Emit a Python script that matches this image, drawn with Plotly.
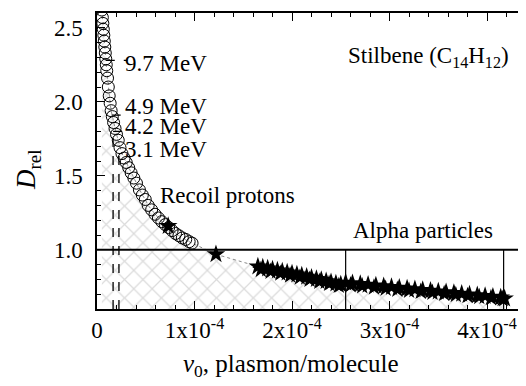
import plotly.graph_objects as go

# ---------------- data ----------------
# Recoil protons (open circles): nu0 in 1e-4 plasmon/molecule, D_rel
proton_nu = [0.050, 0.055, 0.060, 0.065, 0.070, 0.075, 0.080, 0.085, 0.090, 0.095,
             0.100, 0.108, 0.116, 0.125, 0.135, 0.145, 0.157, 0.170, 0.185, 0.200,
             0.218, 0.236, 0.256, 0.278, 0.300, 0.325, 0.350, 0.378, 0.405, 0.435,
             0.465, 0.495, 0.525, 0.560, 0.595, 0.630, 0.665, 0.700, 0.735, 0.770,
             0.805, 0.840, 0.875, 0.910, 0.945, 0.975]
proton_D = [2.62, 2.57, 2.53, 2.49, 2.45, 2.41, 2.37, 2.33, 2.29, 2.25,
            2.21, 2.16, 2.10, 2.04, 1.99, 1.94, 1.90, 1.86, 1.82, 1.78,
            1.74, 1.69, 1.65, 1.62, 1.59, 1.555, 1.52, 1.485, 1.45, 1.405,
            1.37, 1.34, 1.30, 1.27, 1.24, 1.215, 1.19, 1.17, 1.15, 1.13,
            1.11, 1.095, 1.08, 1.07, 1.055, 1.045]

# filled stars (upper row)
star_nu = [0.73, 1.22,
           1.65, 1.70, 1.75, 1.80, 1.85, 1.90, 1.95, 2.00, 2.05, 2.10, 2.15, 2.20,
           2.25, 2.30, 2.35, 2.40, 2.45, 2.50,
           2.55, 2.62, 2.70, 2.78, 2.86, 2.94, 3.02, 3.10, 3.18, 3.26, 3.34, 3.42,
           3.50, 3.58, 3.66, 3.74, 3.82, 3.90, 3.98, 4.06, 4.14, 4.18]
star_D = [1.16, 0.97,
          0.887, 0.880, 0.873, 0.866, 0.860, 0.853, 0.846, 0.840, 0.833, 0.826, 0.818, 0.810,
          0.802, 0.795, 0.788, 0.780, 0.772, 0.765,
          0.778, 0.773, 0.768, 0.763, 0.758, 0.753, 0.748, 0.743, 0.738, 0.733, 0.728, 0.723,
          0.718, 0.713, 0.708, 0.703, 0.698, 0.693, 0.688, 0.683, 0.678, 0.670]

# filled stars (lower row of the band)
star2_nu = [1.68, 1.78, 1.88, 1.98, 2.08, 2.18, 2.28, 2.38, 2.48,
            2.60, 2.72, 2.84, 2.96, 3.08, 3.20, 3.32, 3.44, 3.56, 3.68, 3.80, 3.92, 4.04, 4.16]
star2_D = [0.865, 0.853, 0.840, 0.827, 0.813, 0.799, 0.785, 0.771, 0.757,
           0.762, 0.754, 0.746, 0.738, 0.731, 0.724, 0.717, 0.710, 0.703, 0.696, 0.689, 0.682, 0.675, 0.668]

# proton energies marked on the curve
energy_labels = ["9.7 MeV", "4.9 MeV", "4.2 MeV", "3.1 MeV"]
energy_nu = [0.09, 0.15, 0.165, 0.225]
energy_D = [2.28, 1.91, 1.80, 1.70]
label_D = [2.26, 1.97, 1.83, 1.68]
energy_dropline = [False, False, True, True]
energy_leader = [True, True, True, False]

alpha_bounds = [2.55, 4.17]      # x 1e-4
reference_level = 1.0

x_ticks = [0, 1, 2, 3, 4]
x_ticktext = ["0", "1x10<sup>-4</sup>", "2x10<sup>-4</sup>", "3x10<sup>-4</sup>", "4x10<sup>-4</sup>"]
y_ticks = [1.0, 1.5, 2.0, 2.5]

SCALE = 1e-4
FONT = "Liberation Serif"

def sc(v):
    return [a * SCALE for a in v]

fig = go.Figure()

# hatched area under the whole curve
bound_nu = proton_nu + star_nu[1:]
bound_D = proton_D + star_D[1:]
fig.add_trace(go.Scatter(
    x=sc(bound_nu), y=bound_D, mode="lines",
    line=dict(color="#8a8a8a", width=1, dash="dot"),
    fill="tozeroy", fillcolor="rgba(0,0,0,0)",
    fillpattern=dict(shape="x", fgcolor="#b8b8b8", bgcolor="white", size=13, solidity=0.18),
    hoverinfo="skip", showlegend=False))

# reference line D = 1
fig.add_shape(type="line", xref="paper", x0=0, x1=1, yref="y", y0=reference_level, y1=reference_level,
              line=dict(color="black", width=2))
# alpha range bounds
for a in alpha_bounds:
    fig.add_shape(type="line", xref="x", x0=a * SCALE, x1=a * SCALE, yref="y", y0=0.6, y1=reference_level,
                  line=dict(color="black", width=1.2))

# energy drop lines / leaders / labels
label_x = 0.28
for lab, nx, dy, ly, drop, lead in zip(energy_labels, energy_nu, energy_D, label_D,
                                       energy_dropline, energy_leader):
    if drop:
        fig.add_shape(type="line", x0=nx * SCALE, x1=nx * SCALE, y0=0.6, y1=dy,
                      line=dict(color="black", width=1.3, dash="dash"))
    if lead:
        fig.add_shape(type="line", x0=nx * SCALE, x1=(label_x + 0.03) * SCALE, y0=dy, y1=dy,
                      line=dict(color="black", width=1.3, dash="dash"))
    fig.add_annotation(x=label_x * SCALE, y=ly, text=lab, showarrow=False, xanchor="left",
                       yanchor="middle", borderpad=0,
                       font=dict(family=FONT, size=23, color="black"))

# proton circles
fig.add_trace(go.Scatter(
    x=sc(proton_nu), y=proton_D, mode="markers",
    marker=dict(symbol="circle-open", size=12, color="black", line=dict(width=1)),
    showlegend=False))

# stars
fig.add_trace(go.Scatter(
    x=sc(star2_nu), y=star2_D, mode="markers",
    marker=dict(symbol="star", size=13, color="black"), showlegend=False))
fig.add_trace(go.Scatter(
    x=sc(star_nu), y=star_D, mode="markers",
    marker=dict(symbol="star", size=14, color="black"), showlegend=False))

# text annotations
txt = dict(family=FONT, size=23, color="black")
fig.add_annotation(x=1.34 * SCALE, y=1.37, text="Recoil protons", showarrow=False, font=txt)
fig.add_annotation(x=3.34 * SCALE, y=1.13, text="Alpha particles", showarrow=False, font=txt)
fig.add_annotation(x=4.25 * SCALE, y=2.30, text="Stilbene (C<sub>14</sub>H<sub>12</sub>)",
                   showarrow=False, xanchor="right", font=txt)
fig.add_annotation(xref="paper", yref="paper", x=0.45, y=-0.19, xanchor="center", yanchor="middle",
                   text="<i>ν</i><sub>0</sub>, plasmon/molecule", showarrow=False,
                   font=dict(family=FONT, size=25, color="black"))
fig.add_annotation(xref="paper", yref="paper", x=-0.16, y=0.47, xanchor="center", yanchor="middle",
                   text="<i>D</i><sub>rel</sub>", showarrow=False, textangle=-90,
                   font=dict(family=FONT, size=27, color="black"))

axis_common = dict(showline=True, linecolor="black", linewidth=1.5, mirror="ticks",
                   ticks="inside", ticklen=8, tickwidth=1.3, tickcolor="black",
                   showgrid=False, zeroline=False,
                   tickfont=dict(family=FONT, size=23, color="black"))

fig.update_xaxes(range=[0, 4.42 * SCALE], tickvals=[t * SCALE for t in x_ticks], ticktext=x_ticktext,
                 minor=dict(ticks="inside", ticklen=4, dtick=0.2 * SCALE, tickcolor="black", tickwidth=1),
                 **axis_common)
fig.update_yaxes(range=[0.6, 2.6], tickvals=y_ticks, tickformat=".1f", ticklabelstandoff=8,
                 minor=dict(ticks="inside", ticklen=4, dtick=0.1, tick0=0.6, tickcolor="black", tickwidth=1),
                 **axis_common)

fig.update_layout(width=526, height=386, margin=dict(l=89, r=6, t=3, b=85),
                  plot_bgcolor="white", paper_bgcolor="white",
                  font=dict(family=FONT, color="black"))

fig.write_html("out.html")
